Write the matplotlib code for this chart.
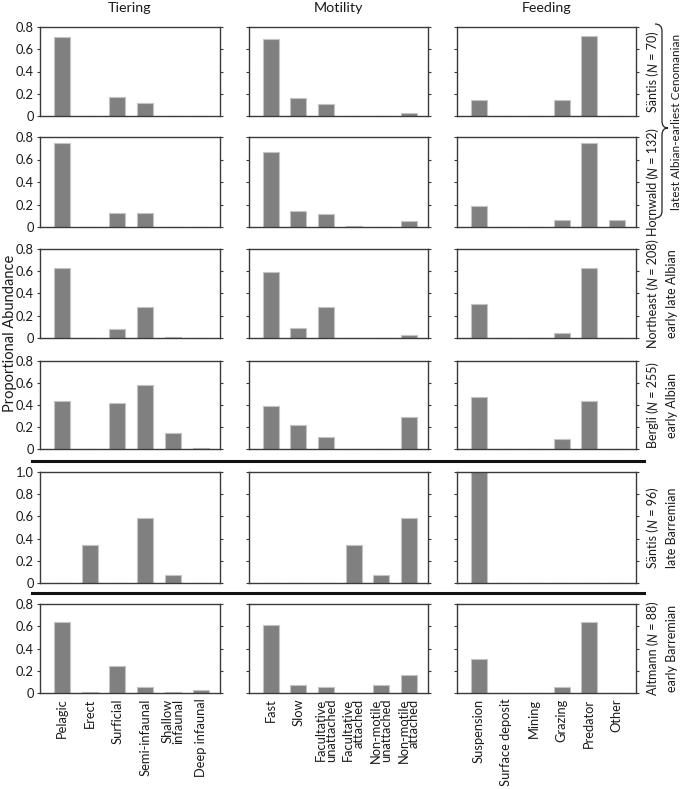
import matplotlib
matplotlib.use("Agg")
import matplotlib.pyplot as plt
from matplotlib.lines import Line2D
from matplotlib.path import Path
from matplotlib.patches import PathPatch
from matplotlib.ticker import FuncFormatter, FixedLocator
import numpy as np

FONT = 'Lato'
plt.rcParams['font.family'] = [FONT, 'DejaVu Sans']

# ---------------- data ----------------
tiering_cats = ["Pelagic", "Erect", "Surficial", "Semi-infaunal", "Shallow\ninfaunal", "Deep infaunal"]
motility_cats = ["Fast", "Slow", "Facultative\nunattached", "Facultative\nattached", "Non-motile\nunattached", "Non-motile\nattached"]
feeding_cats = ["Suspension", "Surface deposit", "Mining", "Grazing", "Predator", "Other"]

column_titles = ["Tiering", "Motility", "Feeding"]

site_names = ["Säntis", "Hornwald", "Northeast", "Bergli", "Säntis", "Altmann"]
site_n = [70, 132, 208, 255, 96, 88]
age_labels = ["latest Albian-earliest Cenomanian", "early late Albian", "early Albian",
              "late Barremian", "early Barremian"]

# rows: Säntis70, Hornwald, Northeast, Bergli, Säntis96, Altmann
tiering_santis70 = [0.714, 0.0, 0.171, 0.114, 0.0, 0.0]
tiering_hornwald = [0.745, 0.0, 0.123, 0.123, 0.0, 0.0]
tiering_northeast = [0.625, 0.0, 0.082, 0.279, 0.005, 0.0]
tiering_bergli = [0.432, 0.0, 0.416, 0.584, 0.145, 0.005]
tiering_santis96 = [0.0, 0.344, 0.0, 0.583, 0.073, 0.0]
tiering_altmann = [0.636, 0.01, 0.243, 0.054, 0.01, 0.03]

motility_santis70 = [0.69, 0.165, 0.108, 0.0, 0.0, 0.024]
motility_hornwald = [0.667, 0.139, 0.114, 0.008, 0.0, 0.053]
motility_northeast = [0.592, 0.091, 0.276, 0.0, 0.0, 0.03]
motility_bergli = [0.392, 0.218, 0.105, 0.0, 0.0, 0.294]
motility_santis96 = [0.0, 0.0, 0.0, 0.344, 0.073, 0.583]
motility_altmann = [0.607, 0.072, 0.051, 0.0, 0.072, 0.165]

feeding_santis70 = [0.147, 0.0, 0.0, 0.147, 0.719, 0.0]
feeding_hornwald = [0.186, 0.0, 0.0, 0.06, 0.744, 0.06]
feeding_northeast = [0.309, 0.0, 0.0, 0.048, 0.625, 0.0]
feeding_bergli = [0.475, 0.0, 0.0, 0.093, 0.432, 0.0]
feeding_santis96 = [1.0, 0.0, 0.0, 0.0, 0.0, 0.0]
feeding_altmann = [0.303, 0.0, 0.0, 0.054, 0.636, 0.0]

rows = [
    [tiering_santis70, motility_santis70, feeding_santis70],
    [tiering_hornwald, motility_hornwald, feeding_hornwald],
    [tiering_northeast, motility_northeast, feeding_northeast],
    [tiering_bergli, motility_bergli, feeding_bergli],
    [tiering_santis96, motility_santis96, feeding_santis96],
    [tiering_altmann, motility_altmann, feeding_altmann],
]
row_ymax = [0.8, 0.8, 0.8, 0.8, 1.0, 0.8]
col_cats = [tiering_cats, motility_cats, feeding_cats]

# ---------------- layout (pixels) ----------------
W, H = 685, 789
fig = plt.figure(figsize=(W / 100, H / 100), dpi=100)

col_px = [(40, 220), (249, 428), (457, 636)]
row_px = [(27, 116), (137, 227), (249, 338), (361, 449), (472, 583), (604, 693)]

bar_face = "#808080"
bar_edge = "#c4c4c4"
spine_col = "#3a3a3a"
txt_col = "#1a1a1a"
fs_tick = 9.3
fs_xcat = 9.3
fs_side = 9.0

def fmt(v, pos):
    return "0" if abs(v) < 1e-9 else f"{v:.1f}"

for r, (top, bot) in enumerate(row_px):
    for c, (left, right) in enumerate(col_px):
        ax = fig.add_axes([left / W, 1 - bot / H, (right - left) / W, (bot - top) / H])
        vals = rows[r][c]
        x = np.arange(len(vals))
        ax.bar(x, vals, width=0.58, color=bar_face, edgecolor=bar_edge, linewidth=0.8)
        ax.set_xlim(-0.79, 5.70)
        ax.set_ylim(0, row_ymax[r])
        ax.yaxis.set_major_locator(FixedLocator(np.round(np.arange(0, row_ymax[r] + 0.01, 0.2), 1)))
        ax.yaxis.set_major_formatter(FuncFormatter(fmt))
        ax.tick_params(axis='y', which='both', direction='out', length=2.5, width=0.8,
                       color=spine_col, left=True, right=True, labelleft=(c == 0),
                       labelsize=fs_tick, pad=2, labelcolor=txt_col)
        for s in ax.spines.values():
            s.set_color(spine_col)
            s.set_linewidth(1.0)
        if r == len(row_px) - 1:
            ax.set_xticks(x)
            ax.set_xticklabels(col_cats[c], rotation=90, fontsize=fs_xcat,
                               ha='center', va='top', multialignment='right', color=txt_col,
                               linespacing=0.85)
            ax.tick_params(axis='x', length=0, pad=4)
        else:
            ax.set_xticks([])

# column titles
for c, (left, right) in enumerate(col_px):
    fig.text((left + right) / 2 / W, 1 - 8 / H, column_titles[c], ha='center', va='center',
             fontsize=10.3, color=txt_col)

# y label
fig.text(10 / W, 1 - 333 / H, "Proportional Abundance", rotation=90, ha='center', va='center',
         fontsize=10.5, color=txt_col)

# right-hand site labels built from pieces (italic N)
chains = []
for r, (top, bot) in enumerate(row_px):
    yc = (top + bot) / 2
    xb = 657  # baseline x in pixels
    pieces = [(f"{site_names[r]} (", 'normal'), ("N", 'italic'), (f" = {site_n[r]})", 'normal')]
    first = fig.text(xb / W, 1 - yc / H, pieces[0][0], rotation=90, rotation_mode='anchor',
                     ha='left', va='baseline', fontsize=fs_side, color=txt_col, style=pieces[0][1])
    prev = first
    arts = [first]
    for txt, sty in pieces[1:]:
        a = fig.text(0, 0, "")
        a.remove()
        a = fig.add_artist(matplotlib.text.Annotation(
            txt, xy=(xb / W, 1.0), xycoords=(fig.transFigure, prev), rotation=90,
            rotation_mode='anchor', ha='left', va='baseline', fontsize=fs_side,
            color=txt_col, style=sty))
        arts.append(a)
        prev = a
    chains.append((first, arts, yc, xb))

fig.text(676 / W, 1 - 122 / H, age_labels[0], rotation=90, ha='center', va='center',
         fontsize=8.6, color=txt_col)
for i, r in enumerate([2, 3, 4, 5]):
    top, bot = row_px[r]
    fig.text(672 / W, 1 - ((top + bot) / 2) / H, age_labels[i + 1], rotation=90, ha='center',
             va='center', fontsize=fs_side, color=txt_col)

# brace
def P(xp, yp):
    return (xp / W, 1 - yp / H)

verts = [P(655, 24), P(662, 24), P(662, 31),
         P(662, 121), P(662, 128), P(668, 128),
         P(662, 128), P(662, 135), P(662, 211),
         P(662, 218), P(655, 218)]
codes = [Path.MOVETO, Path.CURVE3, Path.CURVE3,
         Path.LINETO, Path.CURVE3, Path.CURVE3,
         Path.CURVE3, Path.CURVE3, Path.LINETO,
         Path.CURVE3, Path.CURVE3]
fig.add_artist(PathPatch(Path(verts, codes), transform=fig.transFigure, fill=False,
                         edgecolor="#222222", linewidth=0.9))

# separator lines
for yp in (461, 593):
    fig.add_artist(Line2D([32 / W, 644 / W], [1 - yp / H, 1 - yp / H], transform=fig.transFigure,
                          color="#111111", linewidth=2.2))

# center the chained labels vertically on their rows
fig.canvas.draw()
renderer = fig.canvas.get_renderer()
for first, arts, yc, xb in chains:
    b0 = arts[0].get_window_extent(renderer)
    b1 = arts[-1].get_window_extent(renderer)
    length = b1.y1 - b0.y0  # display pixels
    start_disp = (H - yc) - length / 2
    first.set_position((xb / W, start_disp / H))

fig.savefig("out.png", dpi=100)
